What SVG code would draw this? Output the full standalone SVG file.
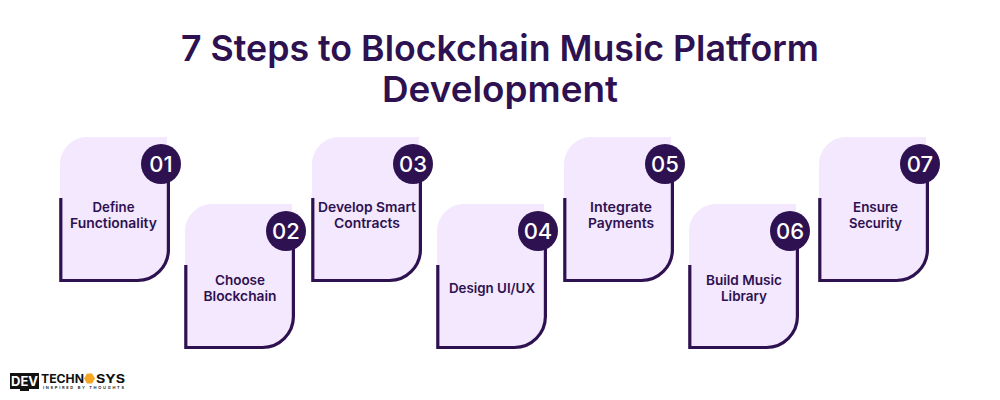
<svg xmlns="http://www.w3.org/2000/svg" xmlns:xlink="http://www.w3.org/1999/xlink" width="1000" height="400" viewBox="0 0 1000 400">
<style>
text{font-family:"Inter","Liberation Sans",sans-serif;text-anchor:middle}
.t{font-size:36px;font-weight:600;fill:#2e1150}
.l{font-size:13.4px;font-weight:600;fill:#2e1150}
.n{font-size:22px;font-weight:500;fill:#fff}
.f{fill:#f3e8fd}
.s{fill:none;stroke:#2e1150;stroke-width:3.2}
.c{fill:#2e1150}
.lg{font-weight:700;fill:#111;text-anchor:start}
</style>
<defs>
<g id="card">
<path class="f" d="M0 27A27 27 0 0 1 27 0H107V112A31 31 0 0 1 76 143H0Z"/>
<path class="s" d="M0.8 61V143.5H77A31 31 0 0 0 108.4 112V40"/>
</g>
</defs>
<rect width="1000" height="400" fill="#fff"/>
<g id="title">
<text class="t" x="500" y="61" textLength="638" lengthAdjust="spacingAndGlyphs">7 Steps to Blockchain Music Platform</text>
<text class="t" x="500" y="102" textLength="236" lengthAdjust="spacingAndGlyphs">Development</text>
</g>
<g id="step-01"><use xlink:href="#card" href="#card" x="60" y="137"/><circle class="c" cx="161" cy="164" r="20"/><text class="n" x="161" y="172">01</text><text class="l" x="113.500" y="212" textLength="42" lengthAdjust="spacingAndGlyphs">Define</text><text class="l" x="113.500" y="228" textLength="87" lengthAdjust="spacingAndGlyphs">Functionality</text></g>
<g id="step-02"><use xlink:href="#card" href="#card" x="185" y="204"/><circle class="c" cx="286" cy="231" r="20"/><text class="n" x="286" y="239">02</text><text class="l" x="240" y="285" textLength="50" lengthAdjust="spacingAndGlyphs">Choose</text><text class="l" x="240" y="301" textLength="73" lengthAdjust="spacingAndGlyphs">Blockchain</text></g>
<g id="step-03"><use xlink:href="#card" href="#card" x="312" y="137"/><circle class="c" cx="413" cy="164" r="20"/><text class="n" x="413" y="172">03</text><text class="l" x="367" y="212" textLength="98" lengthAdjust="spacingAndGlyphs">Develop Smart</text><text class="l" x="367" y="228" textLength="66" lengthAdjust="spacingAndGlyphs">Contracts</text></g>
<g id="step-04"><use xlink:href="#card" href="#card" x="437" y="204"/><circle class="c" cx="538" cy="231" r="20"/><text class="n" x="538" y="239">04</text><text class="l" x="492" y="293" textLength="86" lengthAdjust="spacingAndGlyphs">Design UI/UX</text></g>
<g id="step-05"><use xlink:href="#card" href="#card" x="564" y="137"/><circle class="c" cx="665" cy="164" r="20"/><text class="n" x="665" y="172">05</text><text class="l" x="621" y="212" textLength="62" lengthAdjust="spacingAndGlyphs">Integrate</text><text class="l" x="621" y="228" textLength="66" lengthAdjust="spacingAndGlyphs">Payments</text></g>
<g id="step-06"><use xlink:href="#card" href="#card" x="689" y="204"/><circle class="c" cx="790" cy="231" r="20"/><text class="n" x="790" y="239">06</text><text class="l" x="744" y="285" textLength="76" lengthAdjust="spacingAndGlyphs">Build Music</text><text class="l" x="744" y="301" textLength="46" lengthAdjust="spacingAndGlyphs">Library</text></g>
<g id="step-07"><use xlink:href="#card" href="#card" x="819" y="137"/><circle class="c" cx="920" cy="164" r="20"/><text class="n" x="920" y="172">07</text><text class="l" x="875.500" y="212" textLength="45" lengthAdjust="spacingAndGlyphs">Ensure</text><text class="l" x="875.500" y="228" textLength="53" lengthAdjust="spacingAndGlyphs">Security</text></g>
<g id="logo">
<rect x="10" y="373" width="29" height="16" fill="#111"/>
<rect x="20" y="389" width="9" height="2" fill="#111"/>
<text x="24.500" y="386" style="font-size:13px;font-weight:700;fill:#fff">DEV</text>
<text class="lg" x="41" y="382.500" style="font-size:12px" textLength="43" lengthAdjust="spacingAndGlyphs">TECHN</text>
<polygon points="87,373.500 92,373.500 95,378.500 92,383.500 87,383.500 84,378.500" fill="#f5a623"/>
<text class="lg" x="96" y="382.500" style="font-size:12px" textLength="29" lengthAdjust="spacingAndGlyphs">SYS</text>
<text class="lg" x="43" y="389" style="font-size:4px;font-weight:600" textLength="81">INSPIRED BY THOUGHTS</text>
</g>
</svg>
